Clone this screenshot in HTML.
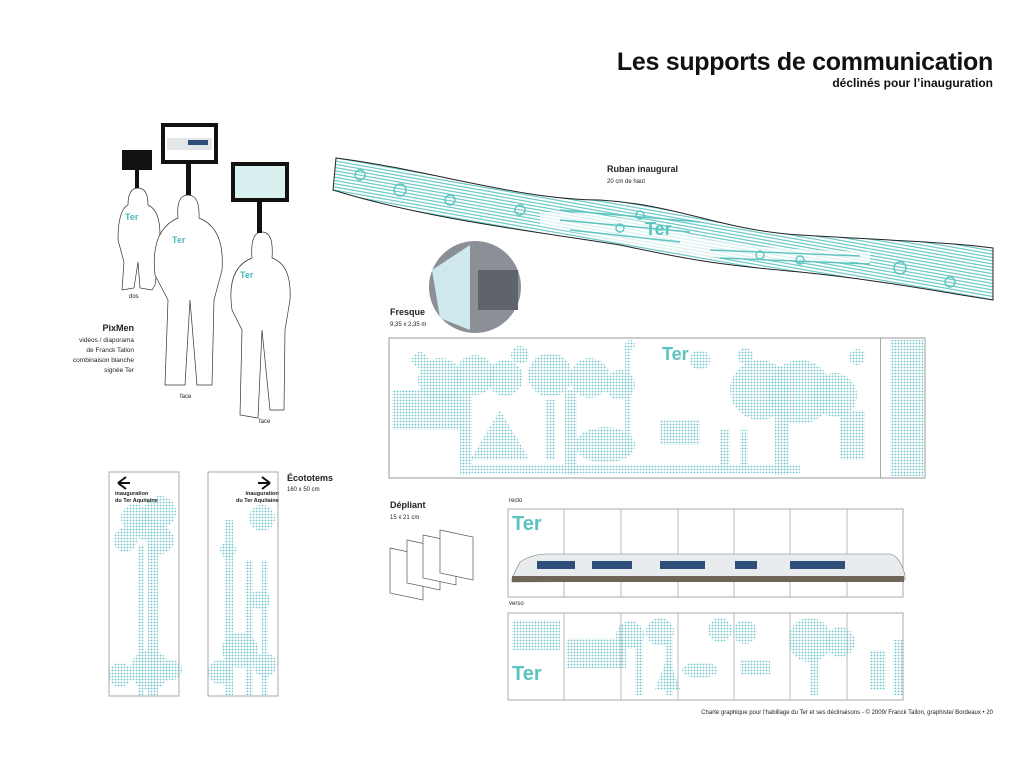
<!DOCTYPE html>
<html><head><meta charset="utf-8"><style>
html,body{margin:0;padding:0;background:#fff;}
body{width:1024px;height:768px;overflow:hidden;position:relative;font-family:"Liberation Sans",sans-serif;}
.t{position:absolute;color:#222;white-space:nowrap;}
</style></head><body>
<svg width="1024" height="768" style="position:absolute;left:0;top:0">
<defs>
<pattern id="rib" width="3.2" height="3.2" patternUnits="userSpaceOnUse" patternTransform="rotate(10)">
<line x1="0" y1="1.2" x2="3.2" y2="1.2" stroke="#5cc4c0" stroke-width="1.1"/></pattern>
<pattern id="dots" width="3" height="3" patternUnits="userSpaceOnUse">
<circle cx="1.5" cy="1.5" r="0.9" fill="#6cc6cc"/></pattern>
</defs>
<!-- ribbon -->
<path d="M336,158 C430,170 520,200 600,200 C680,205 720,230 800,235 C880,240 950,242 993,248 L993,300 C940,292 880,280 800,272 C720,265 690,260 620,245 C540,232 430,220 333,190 Z" fill="url(#rib)" stroke="#222" stroke-width="1"/>
<path d="M540,212 C600,212 660,222 700,238 C760,250 820,250 870,252 L870,262 C820,262 760,262 700,256 C640,248 600,236 540,226 Z" fill="#fff" opacity="0.75"/>
<g fill="none" stroke="#5cc4c0" stroke-width="1.4">
<path d="M560,210 L700,222 M560,220 L690,232 M570,230 L680,242 M710,250 L860,256 M720,258 L870,264"/>
<circle cx="360" cy="175" r="5"/><circle cx="400" cy="190" r="6"/><circle cx="450" cy="200" r="5"/><circle cx="520" cy="210" r="5"/><circle cx="640" cy="215" r="4"/><circle cx="620" cy="228" r="4"/><circle cx="760" cy="255" r="4"/><circle cx="800" cy="260" r="4"/><circle cx="900" cy="268" r="6"/><circle cx="950" cy="282" r="5"/></g>
<text x="645" y="235" font-family="Liberation Sans" font-weight="bold" font-size="18" fill="#5cc4c0">Ter</text>
<!-- photo circle -->
<circle cx="475" cy="287" r="46" fill="#8a9096"/>
<path d="M432,270 L470,245 L470,330 L440,318 Z" fill="#cfe8ee"/>
<rect x="478" y="270" width="40" height="40" fill="#5e646a"/>
<!-- fresque -->
<rect x="389" y="338" width="536" height="140" fill="#fff" stroke="#999"/>
<g fill="url(#dots)">
<circle cx="440" cy="380" r="22"/><circle cx="475" cy="375" r="20"/><circle cx="505" cy="378" r="18"/><circle cx="550" cy="375" r="22"/><circle cx="590" cy="378" r="20"/><circle cx="620" cy="385" r="15"/>
<circle cx="420" cy="360" r="8"/><circle cx="520" cy="355" r="9"/><circle cx="700" cy="360" r="10"/><circle cx="745" cy="356" r="8"/><circle cx="857" cy="357" r="8"/><circle cx="630" cy="345" r="5"/>
<rect x="460" y="390" width="12" height="85"/><rect x="565" y="390" width="12" height="85"/>
<rect x="625" y="345" width="6" height="110"/>
<path d="M470,460 L500,410 L530,460 Z"/>
<ellipse cx="605" cy="445" rx="30" ry="18"/>
<circle cx="760" cy="390" r="30"/><circle cx="800" cy="392" r="32"/><circle cx="835" cy="395" r="22"/><rect x="775" y="410" width="14" height="65"/>
<rect x="890" y="340" width="35" height="136"/>
<rect x="392" y="390" width="70" height="40"/>
<rect x="545" y="400" width="10" height="60"/>
<rect x="660" y="420" width="40" height="25"/>
<rect x="840" y="410" width="25" height="50"/>
<rect x="470" y="465" width="330" height="8"/>
<rect x="720" y="430" width="10" height="40"/><rect x="740" y="430" width="8" height="40"/>
</g>
<text x="662" y="360" font-family="Liberation Sans" font-weight="bold" font-size="18" fill="#5cc4c0">Ter</text>
<rect x="880" y="338" width="1" height="140" fill="#aaa"/>
<!-- ecototems -->
<rect x="109" y="472" width="70" height="224" fill="#fff" stroke="#aaa"/>
<rect x="208" y="472" width="70" height="224" fill="#fff" stroke="#aaa"/>
<g fill="url(#dots)">
<circle cx="135" cy="518" r="14"/><circle cx="160" cy="512" r="16"/><circle cx="125" cy="540" r="12"/><circle cx="160" cy="540" r="14"/><circle cx="145" cy="528" r="12"/>
<rect x="148" y="545" width="10" height="150"/><rect x="138" y="545" width="6" height="150"/>
<circle cx="150" cy="670" r="20"/><circle cx="120" cy="675" r="12"/><circle cx="172" cy="670" r="10"/>
<circle cx="262" cy="518" r="13"/><rect x="225" y="520" width="8" height="175"/><rect x="245" y="560" width="8" height="135"/><rect x="262" y="560" width="6" height="135"/>
<circle cx="228" cy="550" r="8"/><circle cx="260" cy="600" r="10"/><circle cx="240" cy="650" r="18"/><circle cx="220" cy="672" r="12"/><circle cx="265" cy="665" r="12"/>
</g>
<path d="M118,483 L126,477 M118,483 L126,489 M118,483 L130,483" stroke="#111" stroke-width="2" fill="none"/>
<path d="M270,483 L262,477 M270,483 L262,489 M270,483 L258,483" stroke="#111" stroke-width="2" fill="none"/>
<!-- depliant -->
<g fill="#fff" stroke="#555" stroke-width="0.7">
<path d="M390,548 L423,555 L423,600 L390,593 Z"/>
<path d="M407,540 L440,547 L440,590 L407,583 Z"/>
<path d="M423,535 L456,542 L456,585 L423,578 Z"/>
<path d="M440,530 L473,537 L473,580 L440,573 Z"/>
</g>
<rect x="508" y="509" width="395" height="88" fill="#fff" stroke="#aaa"/>
<rect x="508" y="613" width="395" height="87" fill="#fff" stroke="#aaa"/>
<g stroke="#aaa" stroke-width="0.8">
<line x1="564" y1="509" x2="564" y2="597"/><line x1="621" y1="509" x2="621" y2="597"/><line x1="678" y1="509" x2="678" y2="597"/><line x1="734" y1="509" x2="734" y2="597"/><line x1="790" y1="509" x2="790" y2="597"/><line x1="847" y1="509" x2="847" y2="597"/>
<line x1="564" y1="613" x2="564" y2="700"/><line x1="621" y1="613" x2="621" y2="700"/><line x1="678" y1="613" x2="678" y2="700"/><line x1="734" y1="613" x2="734" y2="700"/><line x1="790" y1="613" x2="790" y2="700"/><line x1="847" y1="613" x2="847" y2="700"/>
</g>
<!-- train -->
<path d="M512,578 L520,562 Q530,555 545,554 L890,554 Q900,556 905,575 L905,580 L512,582 Z" fill="#e8ecef" stroke="#777" stroke-width="0.6"/>
<rect x="512" y="576" width="392" height="6" fill="#6e6658"/>
<g fill="#2f4f7a"><rect x="537" y="561" width="38" height="8"/><rect x="592" y="561" width="40" height="8"/><rect x="660" y="561" width="45" height="8"/><rect x="735" y="561" width="22" height="8"/><rect x="790" y="561" width="55" height="8"/></g>
<text x="512" y="530" font-family="Liberation Sans" font-weight="bold" font-size="20" fill="#5cc4c0">Ter</text>
<g fill="url(#dots)">
<rect x="512" y="620" width="48" height="30"/>
<rect x="566" y="638" width="60" height="30"/><circle cx="630" cy="635" r="14"/><circle cx="660" cy="632" r="14"/><rect x="635" y="640" width="8" height="55"/><rect x="665" y="640" width="8" height="55"/>
<circle cx="720" cy="630" r="12"/><circle cx="745" cy="632" r="12"/>
<path d="M655,690 L668,655 L680,690 Z"/><ellipse cx="700" cy="670" rx="18" ry="8"/>
<circle cx="810" cy="640" r="22"/><circle cx="840" cy="642" r="15"/><rect x="810" y="650" width="8" height="45"/><rect x="870" y="650" width="16" height="40"/><rect x="893" y="640" width="10" height="55"/>
<rect x="740" y="660" width="30" height="15"/>
</g>
<text x="512" y="680" font-family="Liberation Sans" font-weight="bold" font-size="20" fill="#5cc4c0">Ter</text>
<!-- figures -->
<g fill="#fff" stroke="#333" stroke-width="0.7">
<path d="M128,205 Q128,188 138,188 Q148,188 148,205 Q160,210 160,235 L158,262 L155,285 L152,290 L140,288 L138,262 L134,288 L122,290 L124,262 L118,240 Q118,210 128,205 Z"/>
<path d="M178,218 Q176,195 188,195 Q200,195 199,218 Q225,228 222,270 L214,300 L212,385 L197,385 L190,300 L185,385 L165,385 L168,300 L155,275 Q150,230 178,218 Z"/>
<path d="M252,258 Q250,232 262,232 Q274,232 272,258 Q292,265 290,300 L285,330 L284,410 L270,410 L262,330 L258,418 L240,415 L242,330 L232,310 Q226,268 252,258 Z"/>
</g>
<rect x="122" y="150" width="30" height="20" fill="#111"/><rect x="135" y="170" width="4" height="18" fill="#111"/>
<rect x="163" y="125" width="53" height="37" fill="#fff" stroke="#111" stroke-width="4"/><rect x="186" y="163" width="5" height="32" fill="#111"/>
<rect x="167" y="138" width="45" height="12" fill="#e3e6e8"/><rect x="188" y="140" width="20" height="5" fill="#2f4f7a"/>
<rect x="233" y="164" width="54" height="36" fill="#d9f0f0" stroke="#111" stroke-width="4"/><rect x="257" y="200" width="5" height="33" fill="#111"/>
<g font-family="Liberation Sans" font-weight="bold" font-size="9" fill="#4bb8b8"><text x="125" y="220">Ter</text><text x="172" y="243">Ter</text><text x="240" y="278">Ter</text></g>
</svg>
<div class="t" style="right:31px;top:48px;font-size:25px;font-weight:bold;color:#111;letter-spacing:-0.3px">Les supports de communication</div>
<div class="t" style="right:31px;top:76px;font-size:12px;font-weight:bold;color:#111">déclinés pour l’inauguration</div>
<div class="t" style="left:607px;top:164px;font-size:9px;font-weight:bold">Ruban inaugural</div>
<div class="t" style="left:607px;top:179px;font-size:6px">20 cm de haut</div>
<div class="t" style="left:390px;top:307px;font-size:9px;font-weight:bold">Fresque</div>
<div class="t" style="left:390px;top:322px;font-size:6px">9,35 x 2,35 m</div>
<div class="t" style="left:129px;top:294px;font-size:6px">dos</div>
<div class="t" style="right:890px;top:323px;font-size:9px;font-weight:bold">PixMen</div>
<div class="t" style="right:890px;top:336px;font-size:6.5px;line-height:10px;text-align:right">vidéos / diaporama<br>de Franck Tallon<br>combinaison blanche<br>signée Ter</div>
<div class="t" style="left:180px;top:394px;font-size:6px">face</div>
<div class="t" style="left:259px;top:419px;font-size:6px">face</div>
<div class="t" style="left:287px;top:473px;font-size:9px;font-weight:bold">Écototems</div>
<div class="t" style="left:287px;top:487px;font-size:6px">160 x 50 cm</div>
<div class="t" style="left:115px;top:491px;font-size:5.5px;font-weight:bold;line-height:7px">inauguration<br>du Ter Aquitaine</div>
<div class="t" style="left:236px;top:491px;font-size:5.5px;font-weight:bold;line-height:7px;text-align:right">inauguration<br>du Ter Aquitaine</div>
<div class="t" style="left:390px;top:500px;font-size:9px;font-weight:bold">Dépliant</div>
<div class="t" style="left:390px;top:515px;font-size:6px">15 x 21 cm</div>
<div class="t" style="left:509px;top:498px;font-size:6px">recto</div>
<div class="t" style="left:509px;top:601px;font-size:6px">verso</div>
<div class="t" style="right:31px;top:710px;font-size:6px">Charte graphique pour l’habillage du Ter et ses déclinaisons - © 2009/ Franck Tallon, graphiste/ Bordeaux  •  20</div>
</body></html>
